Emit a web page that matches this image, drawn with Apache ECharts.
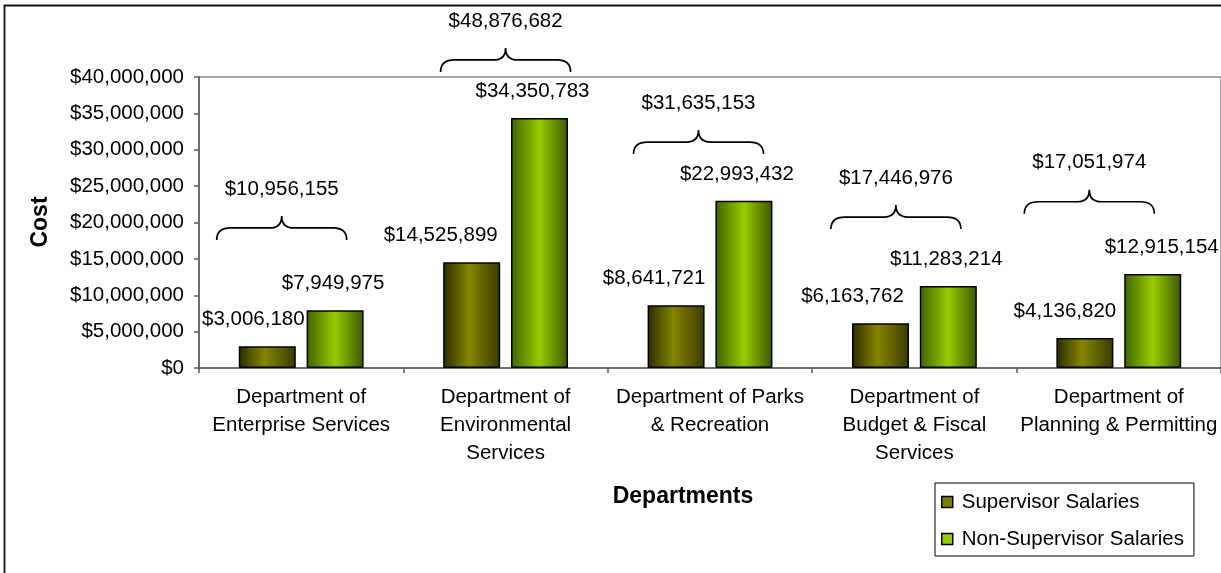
<!DOCTYPE html>
<html>
<head>
<meta charset="utf-8">
<title>Salary Costs by Department</title>
<script src="https://cdn.jsdelivr.net/npm/echarts@6/dist/echarts.min.js"></script>
<style>
  html, body { margin: 0; padding: 0; background: #fff; }
  #chart { width: 1221px; height: 573px; }
</style>
</head>
<body>
<div id="chart"></div>
<script>
// ---- data ----
const departments = [
  'Department of\nEnterprise Services',
  'Department of\nEnvironmental\nServices',
  'Department of Parks\n& Recreation',
  'Department of\nBudget & Fiscal\nServices',
  'Department of\nPlanning & Permitting'
];
const supervisorSalaries = [3006180, 14525899, 8641721, 6163762, 4136820];
const nonSupervisorSalaries = [7949975, 34350783, 22993432, 11283214, 12915154];
const seriesNames = ['Supervisor Salaries', 'Non-Supervisor Salaries'];
const yTicks = { min: 0, max: 40000000, interval: 5000000 };

// ---- annotation layout ----
// horizontal nudges (px) of the value labels relative to their bars
const supLabelShift = [-14, -31, -22, -28, -20];
const nonSupLabelShift = [-2, -7, -7, -2, 9];
// brace tip height (in axis units) and horizontal nudge (px) per department
const braceTipLevel = [20.9e6, 44.0e6, 32.7e6, 22.4e6, 24.5e6];
const braceShift = [-19.5, 0, -11.5, -18.5, -29.5];

const FONT = '"Liberation Sans", Arial, sans-serif';
const FS = 20.5;
const money = v => '$' + Math.round(v).toLocaleString('en-US');
const totals = supervisorSalaries.map((v, i) => v + nonSupervisorSalaries[i]);

const supGradient = new echarts.graphic.LinearGradient(0, 0, 1, 0, [
  { offset: 0, color: '#2b2b00' },
  { offset: 0.45, color: '#858500' },
  { offset: 1, color: '#3a3a00' }
]);
const nonSupGradient = new echarts.graphic.LinearGradient(0, 0, 1, 0, [
  { offset: 0, color: '#3f6300' },
  { offset: 0.5, color: '#99cc00' },
  { offset: 1, color: '#3a5800' }
]);

function barData(values, shifts) {
  return values.map((v, i) => ({ value: v, label: { offset: [shifts[i], 0] } }));
}

function renderBrace(params, api) {
  const idx = api.value(0);
  const tip = api.coord([idx, api.value(1)]);
  const cx = tip[0] + braceShift[idx];
  const yTop = tip[1];
  const yMid = yTop + 12;
  const yEnd = yTop + 24;
  const half = 65;
  const x0 = cx - half, x1 = cx + half;
  const d = [
    'M', x0, yEnd,
    'Q', x0, yMid, x0 + 14, yMid,
    'L', cx - 12, yMid,
    'Q', cx, yMid, cx, yTop,
    'Q', cx, yMid, cx + 12, yMid,
    'L', x1 - 14, yMid,
    'Q', x1, yMid, x1, yEnd
  ].join(' ');
  return {
    type: 'group',
    children: [
      {
        type: 'path',
        shape: { pathData: d },
        style: { fill: null, stroke: '#000', lineWidth: 1.7 }
      },
      {
        type: 'text',
        style: {
          text: money(api.value(2)),
          x: cx,
          y: yTop - 27,
          align: 'center',
          verticalAlign: 'middle',
          fontSize: FS,
          fontFamily: FONT,
          fill: '#000'
        }
      }
    ]
  };
}

const chart = echarts.init(document.getElementById('chart'), null, { renderer: 'canvas' });

chart.setOption({
  backgroundColor: '#fff',
  animation: false,
  textStyle: { fontFamily: FONT, color: '#000' },
  grid: {
    left: 199, top: 77, width: 1025, height: 291,
    show: true, borderColor: '#8c8c8c', borderWidth: 1.5,
    backgroundColor: 'transparent'
  },
  legend: {
    orient: 'vertical',
    left: 935, top: 483,
    padding: [8, 10, 6, 6],
    itemGap: 15,
    itemWidth: 11, itemHeight: 11,
    borderColor: '#000', borderWidth: 1,
    backgroundColor: '#fff',
    icon: 'rect',
    textStyle: { fontSize: FS, fontFamily: FONT, color: '#000', lineHeight: 22, padding: [0, 0, 0, 4] },
    data: [
      { name: seriesNames[0], itemStyle: { color: '#808000', borderColor: '#000', borderWidth: 1.5 } },
      { name: seriesNames[1], itemStyle: { color: '#99cc00', borderColor: '#000', borderWidth: 1.5 } }
    ]
  },
  xAxis: {
    type: 'category',
    data: departments,
    axisLine: { show: true, lineStyle: { color: '#595959', width: 1.5 } },
    axisTick: { show: true, length: 5, inside: false, lineStyle: { color: '#595959', width: 1.5 } },
    axisLabel: {
      interval: 0, margin: 15, fontSize: FS, lineHeight: 28,
      fontFamily: FONT, color: '#000', align: 'center'
    },
    splitLine: { show: false }
  },
  yAxis: {
    type: 'value',
    min: yTicks.min, max: yTicks.max, interval: yTicks.interval,
    axisLine: { show: true, lineStyle: { color: '#595959', width: 1.5 } },
    axisTick: { show: true, length: 5, lineStyle: { color: '#595959', width: 1.5 } },
    axisLabel: { margin: 15, fontSize: FS, fontFamily: FONT, color: '#000', formatter: money },
    splitLine: { show: false }
  },
  graphic: [
    {
      type: 'rect',
      shape: { x: 4.5, y: 5.5, width: 1400, height: 800 },
      style: { fill: null, stroke: '#111', lineWidth: 1.8 },
      silent: true
    },
    {
      type: 'text',
      x: 41, y: 222, rotation: Math.PI / 2,
      style: {
        text: 'Cost', align: 'center', verticalAlign: 'middle',
        fontSize: 23, fontWeight: 'bold', fontFamily: FONT, fill: '#000'
      }
    },
    {
      type: 'text',
      x: 683, y: 497,
      style: {
        text: 'Departments', align: 'center', verticalAlign: 'middle',
        fontSize: 23, fontWeight: 'bold', fontFamily: FONT, fill: '#000'
      }
    }
  ],
  series: [
    {
      name: seriesNames[0],
      type: 'bar',
      barWidth: 57,
      barGap: '19%',
      data: barData(supervisorSalaries, supLabelShift),
      itemStyle: { color: supGradient, borderColor: '#000', borderWidth: 1.5 },
      label: {
        show: true, position: 'top', distance: 16,
        fontSize: FS, fontFamily: FONT, color: '#000',
        formatter: p => money(p.value)
      }
    },
    {
      name: seriesNames[1],
      type: 'bar',
      barWidth: 57,
      barGap: '19%',
      data: barData(nonSupervisorSalaries, nonSupLabelShift),
      itemStyle: { color: nonSupGradient, borderColor: '#000', borderWidth: 1.5 },
      label: {
        show: true, position: 'top', distance: 16,
        fontSize: FS, fontFamily: FONT, color: '#000',
        formatter: p => money(p.value)
      }
    },
    {
      name: 'Department totals',
      type: 'custom',
      clip: false,
      z: 5,
      renderItem: renderBrace,
      data: totals.map((t, i) => [i, braceTipLevel[i], t]),
      silent: true
    }
  ]
});
</script>
</body>
</html>
